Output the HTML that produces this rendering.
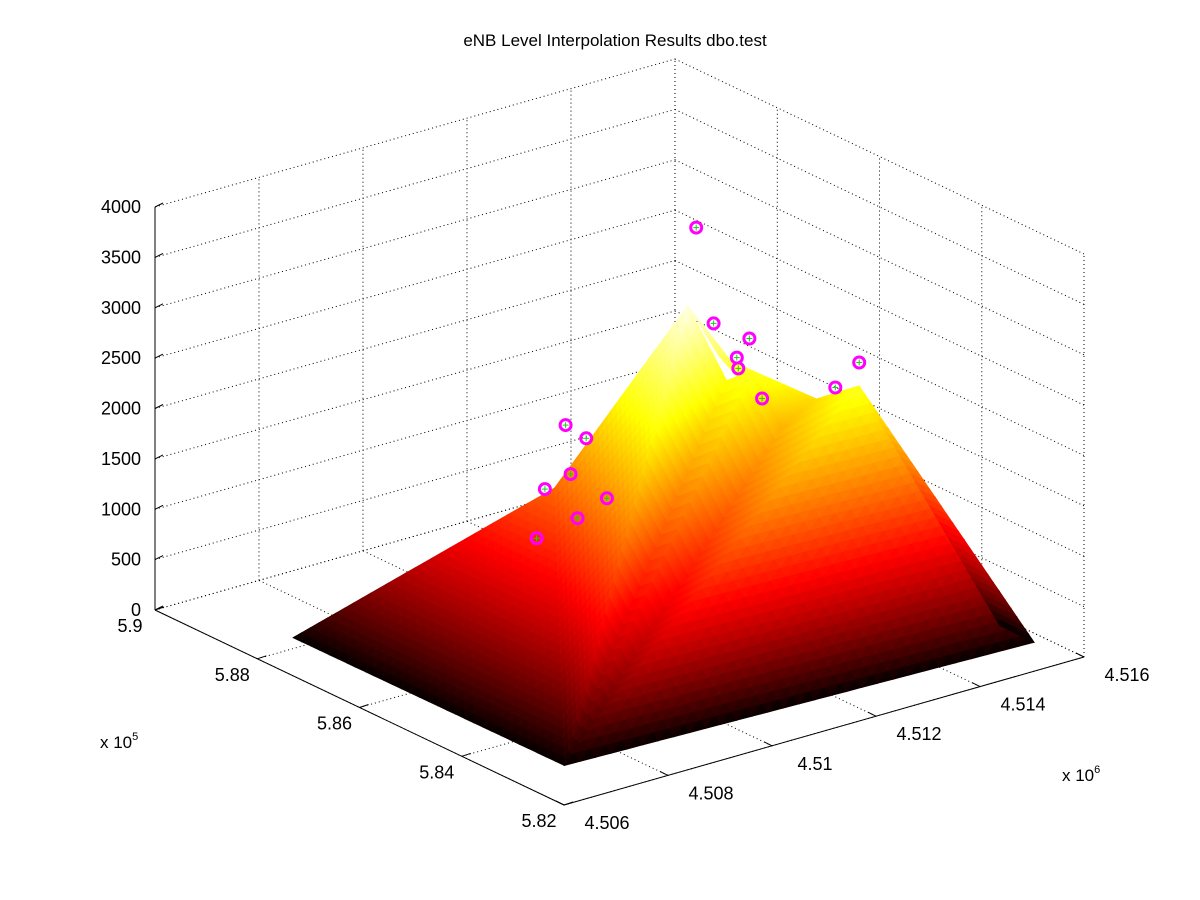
<!DOCTYPE html>
<html><head><meta charset="utf-8"><title>eNB Level Interpolation Results</title>
<style>
html,body{margin:0;padding:0;background:#fff;}
svg{display:block;font-family:"Liberation Sans",Arial,sans-serif;}
</style></head>
<body>
<svg id="chart" width="1200" height="900" viewBox="0 0 1200 900" xmlns="http://www.w3.org/2000/svg">
<rect width="1200" height="900" fill="#fff"/>
<text x="615" y="46" font-size="17" text-anchor="middle">eNB Level Interpolation Results dbo.test</text>
<g id="grid"></g>
<g id="surface"></g>
<g id="axes"></g>
<g id="points"></g>
<text x="100" y="748" font-size="17">x 10<tspan dy="-8" font-size="11">5</tspan></text>
<text x="1062" y="781" font-size="17">x 10<tspan dy="-8" font-size="11">6</tspan></text>
</svg>
<script>
// ---- axis ticks (data units: x in 1e6, y in 1e5) ----
const xTicks = [4.506, 4.508, 4.510, 4.512, 4.514, 4.516];
const xTickLabels = ["4.506", "4.508", "4.51", "4.512", "4.514", "4.516"];
const yTicks = [5.82, 5.84, 5.86, 5.88, 5.90];
const yTickLabels = ["5.82", "5.84", "5.86", "5.88", "5.9"];
const zTicks = [0, 500, 1000, 1500, 2000, 2500, 3000, 3500, 4000];
// ---- surface vertices ----
const surfX = [4.50696, 4.50760, 4.50700, 4.51577, 4.51578, 4.51248, 4.51429, 4.51421, 4.51285, 4.51308, 4.51339, 4.51358, 4.51033];
const surfY = [5.8828, 5.8821, 5.8301, 5.8274, 5.8343, 5.8617, 5.8466, 5.8541, 5.8594, 5.8602, 5.8583, 5.8544, 5.8659];
const surfZ = [0, 0, 0, 0, 0, 3000, 2300, 2000, 2500, 2200, 2300, 1800, 1400];
// triangles (vertex indices), back-to-front
const surfTris = [[5,8,11],[8,7,11],[7,6,11],[6,4,11],[1,0,12],[0,2,12],[2,12,5],[2,5,9],[2,9,10],[2,10,11],[2,11,6],[2,6,3],[6,4,3]];
// ---- scatter measurements ----
const scatX = [4.51276,4.51284,4.51340,4.51302,4.51302,4.51331,4.51396,4.51437,4.51078,4.51095,4.51062,4.51044,4.51121,4.51086,4.51037];
const scatY = [5.8629,5.8603,5.8590,5.8576,5.8573,5.8556,5.8479,5.8474,5.8683,5.8660,5.8657,5.8689,5.8646,5.8668,5.8698];
const scatZ = [3700,2800,2600,2500,2400,2100,2300,2500,1900,1800,1500,1300,1200,1000,800];

const X0=4.506,X1=4.516,Y0=5.82,Y1=5.90,ZMAX=4000;
const F=[564,805], EX=[520,-148], EY=[-409,-195], EZ=-403;
function proj(x,y,z){const u=(x-X0)/(X1-X0), v=(y-Y0)/(Y1-Y0);
  return [F[0]+EX[0]*u+EY[0]*v, F[1]+EX[1]*u+EY[1]*v+EZ*z/ZMAX];}
const NS="http://www.w3.org/2000/svg";
function mk(tag,attrs,parent){const e=document.createElementNS(NS,tag);for(const k in attrs)e.setAttribute(k,attrs[k]);parent.appendChild(e);return e;}
function line(p,q,parent,extra){return mk('line',Object.assign({x1:p[0].toFixed(1),y1:p[1].toFixed(1),x2:q[0].toFixed(1),y2:q[1].toFixed(1),stroke:'#000','stroke-width':1},extra||{}),parent);}

// grid
const grid=document.getElementById('grid');
const dot={'stroke-dasharray':'1,3'};
xTicks.forEach(x=>{
  let l=line(proj(x,Y1,0),proj(x,Y1,ZMAX),grid,dot);
  
  
  l=line(proj(x,Y0,0),proj(x,Y1,0),grid,dot);
  
  
});
yTicks.forEach(y=>{
  let l=line(proj(X1,y,0),proj(X1,y,ZMAX),grid,dot);
  
  
  l=line(proj(X0,y,0),proj(X1,y,0),grid,dot);
  
  
});
zTicks.forEach(z=>{
  let l=line(proj(X0,Y1,z),proj(X1,Y1,z),grid,dot);
  
  
  l=line(proj(X1,Y1,z),proj(X1,Y0,z),grid,dot);
  
  
});

// hot colormap
const CMAX=Math.max(...surfZ)*1.03;
function hot(z){const t=Math.pow(Math.max(0,Math.min(1,z/CMAX)),0.82);
  const r=Math.min(1,t/0.375),g=Math.max(0,Math.min(1,(t-0.375)/0.375)),b=Math.max(0,Math.min(1,(t-0.75)/0.25));
  return 'rgb('+Math.round(r*255)+','+Math.round(g*255)+','+Math.round(b*255)+')';}
const surf=document.getElementById('surface');
const N=30;
surfTris.forEach(tri=>{
  const V=tri.map(i=>[surfX[i],surfY[i],surfZ[i]]);
  function P(i,j){const a=i/N,b=j/N,c=1-a-b;return [0,1,2].map(k=>V[0][k]*c+V[1][k]*a+V[2][k]*b);}
  for(let i=0;i<N;i++)for(let j=0;j<N-i;j++){
    const cells=[[P(i,j),P(i+1,j),P(i,j+1)]];
    if(i+j<N-1)cells.push([P(i+1,j),P(i+1,j+1),P(i,j+1)]);
    cells.forEach(c=>{
      const zc=(c[0][2]+c[1][2]+c[2][2])/3;
      const pts=c.map(p=>proj(p[0],p[1],p[2]).map(v=>v.toFixed(1)).join(',')).join(' ');
      const col=hot(zc);
      const pg=mk('polygon',{points:pts,fill:col,stroke:col,'stroke-width':0.6},surf);
      
      
    });
  }
});

// axes
const ax=document.getElementById('axes');
let a=line(proj(X0,Y1,0),proj(X0,Y1,ZMAX),ax);


a=line(proj(X0,Y0,0),proj(X0,Y1,0),ax);


a=line(proj(X0,Y0,0),proj(X1,Y0,0),ax);


zTicks.forEach((z,i)=>{
  const p=proj(X0,Y1,z);
  const t=line(p,[p[0]+8,p[1]-4],ax);
  
  
  const tx=mk('text',{x:(p[0]-14).toFixed(1),y:(p[1]+6).toFixed(1),'font-size':18,'text-anchor':'end'},ax);
  tx.textContent=String(z);
  
  
});
xTicks.forEach((x,i)=>{
  const p=proj(x,Y0,0);
  const t=line(p,[p[0]-8,p[1]-4],ax);
  
  
  const tx=mk('text',{x:(p[0]+43).toFixed(1),y:(p[1]+24).toFixed(1),'font-size':18,'text-anchor':'middle'},ax);
  tx.textContent=xTickLabels[i];
  
  
});
yTicks.forEach((y,i)=>{
  const p=proj(X0,y,0);
  const t=line(p,[p[0]+9,p[1]-3],ax);
  
  
  const tx=mk('text',{x:(p[0]-25).toFixed(1),y:(p[1]+22).toFixed(1),'font-size':18,'text-anchor':'middle'},ax);
  tx.textContent=yTickLabels[i];
  
  
});

// scatter points
const pg=document.getElementById('points');
scatX.forEach((x,i)=>{
  const p=proj(x,scatY[i],scatZ[i]);
  const g=mk('g',{},pg);
  
  
  mk('circle',{cx:p[0].toFixed(1),cy:p[1].toFixed(1),r:5.5,fill:'none',stroke:'#ff00ff','stroke-width':3},g);
  line([p[0]-3,p[1]],[p[0]+3,p[1]],g,{stroke:'#22cc22'});
  line([p[0],p[1]-3],[p[0],p[1]+3],g,{stroke:'#22cc22'});
});
</script>
</body></html>
